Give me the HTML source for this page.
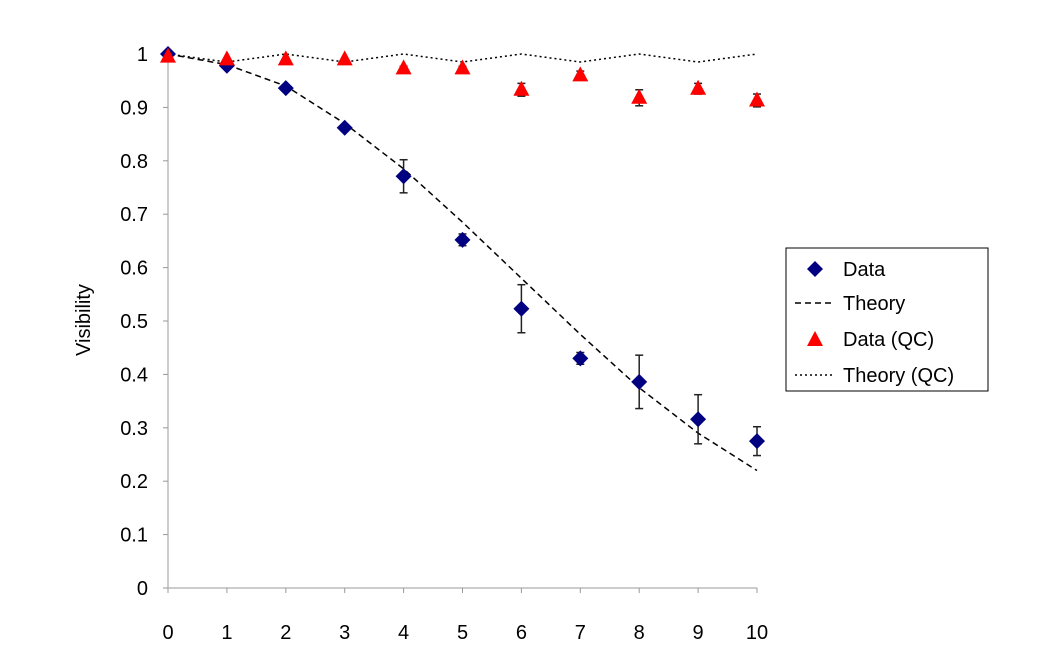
<!DOCTYPE html>
<html><head><meta charset="utf-8"><style>
body{margin:0;background:#fff;}
svg text{font-family:"Liberation Sans",Arial,sans-serif;fill:#000;}
</style></head><body>
<svg id="chart" width="1063" height="653" xmlns="http://www.w3.org/2000/svg">
<g id="axes"></g>
<g id="marks"></g>
<text x="90" y="320" font-size="20" text-anchor="middle" transform="rotate(-90 90 320)">Visibility</text>
<g>
<rect x="786" y="248" width="202" height="143" fill="#fff" stroke="#000" stroke-width="1"/>
<g><path d="M815 261 L823 269 L815 277 L807 269 Z" fill="#000080"/><text x="843" y="276" font-size="20">Data</text></g>
<g><line x1="795" y1="303" x2="835" y2="303" stroke="#000" stroke-width="1.5" stroke-dasharray="6,4"/><text x="843" y="310" font-size="20">Theory</text></g>
<g><path d="M815 331 L823 346 L807 346 Z" fill="#ff0000"/><text x="843" y="346" font-size="20">Data (QC)</text></g>
<g><line x1="795" y1="375" x2="835" y2="375" stroke="#000" stroke-width="1.5" stroke-dasharray="2,3"/><text x="843" y="382" font-size="20">Theory (QC)</text></g>
</g>
</svg>
<script>
const xs=[0,1,2,3,4,5,6,7,8,9,10];
const dataV=[1.0,0.978,0.936,0.862,0.771,0.652,0.523,0.43,0.386,0.316,0.275];
const dataErr=[0,0.004,0.004,0.005,0.031,0.011,0.045,0.011,0.05,0.046,0.027];
const theoryV=[1.0,0.98,0.94,0.87,0.785,0.685,0.58,0.475,0.375,0.29,0.22];
const qcV=[0.995,0.99,0.99,0.99,0.973,0.973,0.933,0.96,0.918,0.935,0.913];
const qcErr=[0,0,0,0,0.004,0.004,0.012,0.008,0.015,0.01,0.012];
const theoryQcV=[1.0,0.985,1.0,0.985,1.0,0.985,1.0,0.985,1.0,0.985,1.0];
const yTicks=[0,0.1,0.2,0.3,0.4,0.5,0.6,0.7,0.8,0.9,1];
const yLabels=["0","0.1","0.2","0.3","0.4","0.5","0.6","0.7","0.8","0.9","1"];
const NS="http://www.w3.org/2000/svg";
const X=v=>168+v*58.9, Y=v=>588-v*534;
function mk(t,a,p){const e=document.createElementNS(NS,t);for(const k in a)e.setAttribute(k,a[k]);p.appendChild(e);return e;}
const ax=document.getElementById('axes'),mg=document.getElementById('marks');
let e=mk('line',{x1:X(0),y1:Y(0),x2:X(10),y2:Y(0),stroke:'#bbb','stroke-width':1.5},ax);


e=mk('line',{x1:X(0),y1:Y(0),x2:X(0),y2:Y(1),stroke:'#bbb','stroke-width':1.5},ax);


yTicks.forEach((t,i)=>{mk('line',{x1:X(0)-5,y1:Y(t),x2:X(0),y2:Y(t),stroke:'#999'},ax);
const tx=mk('text',{x:X(0)-20,y:Y(t)+7,'font-size':20,'text-anchor':'end'},ax);tx.textContent=yLabels[i];

});
xs.forEach(x=>{mk('line',{x1:X(x),y1:Y(0),x2:X(x),y2:Y(0)+5,stroke:'#999'},ax);
const tx=mk('text',{x:X(x),y:Y(0)+51,'font-size':20,'text-anchor':'middle'},ax);tx.textContent=String(x);

});
const pts=a=>xs.map((x,i)=>X(x)+','+Y(a[i])).join(' ');
e=mk('polyline',{points:pts(theoryV),fill:'none',stroke:'#000','stroke-width':1.5,'stroke-dasharray':'6,4'},mg);


e=mk('polyline',{points:pts(theoryQcV),fill:'none',stroke:'#000','stroke-width':1.5,'stroke-dasharray':'2,3'},mg);


function err(x,v,d){if(!d)return;const cx=X(x);const g=mk('g',{stroke:'#222','stroke-width':1.5},mg);


mk('line',{x1:cx,y1:Y(v-d),x2:cx,y2:Y(v+d)},g);mk('line',{x1:cx-4,y1:Y(v-d),x2:cx+4,y2:Y(v-d)},g);mk('line',{x1:cx-4,y1:Y(v+d),x2:cx+4,y2:Y(v+d)},g);}
xs.forEach((x,i)=>{err(x,dataV[i],dataErr[i]);const cx=X(x),cy=Y(dataV[i]);
const p=mk('path',{d:`M${cx} ${cy-8}L${cx+8} ${cy}L${cx} ${cy+8}L${cx-8} ${cy}Z`,fill:'#000080'},mg);

});
xs.forEach((x,i)=>{err(x,qcV[i],qcErr[i]);const cx=X(x),cy=Y(qcV[i]);
const p=mk('path',{d:`M${cx} ${cy-9}L${cx+8} ${cy+6}L${cx-8} ${cy+6}Z`,fill:'#ff0000'},mg);

});
</script>
</body></html>
